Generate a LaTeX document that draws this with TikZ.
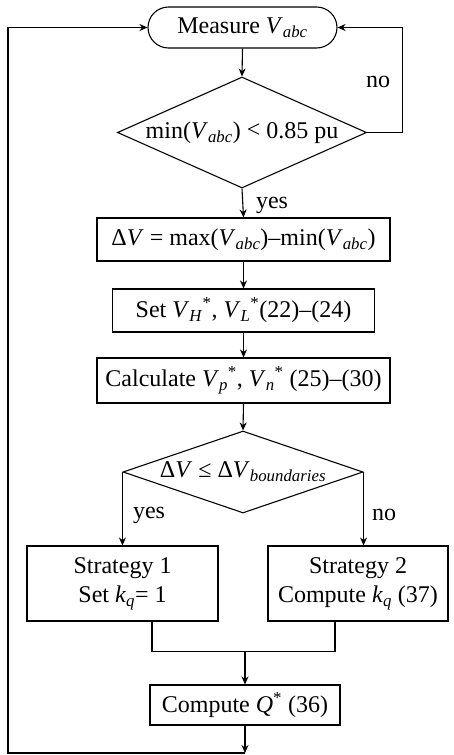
\documentclass[tikz,border=0pt]{standalone}
\usepackage{fontspec}
\setmainfont{Liberation Serif}
\usetikzlibrary{arrows.meta,shapes.geometric,shapes.misc,calc}
\newcommand{\itsb}[2]{\textit{#1}\textsubscript{\textit{#2}}}
\begin{document}
\begin{tikzpicture}[x=1pt,y=-1pt,
  font=\fontsize{24}{28}\selectfont,
  every path/.style={line width=1.1pt},
  arr/.style={-{Stealth[length=8pt,width=7pt]}},
  procbox/.style={draw,rectangle,inner sep=0pt,align=center},
  term/.style={draw,rounded rectangle,inner sep=0pt,minimum width=189pt,minimum height=41pt},
  decision/.style={draw,diamond,inner sep=0pt},
  lbl/.style={inner sep=0pt}]
\useasboundingbox (0,0) rectangle (454,755);
\node[term] (meas) at (242.5,27.5) {Measure \itsb{V}{abc}};
\node[decision,shape aspect=2.6,minimum width=242pt,minimum height=111pt] (d1) at (242,132.5) {min(\itsb{V}{abc}) {\raisebox{1pt}{<}} 0.85 pu};
\node[procbox,minimum width=293pt,minimum height=43pt] (dv) at (243.5,239.5) {Δ\textit{V} = max(\itsb{V}{abc})–min(\itsb{V}{abc})};
\node[procbox,minimum width=262pt,minimum height=43pt] (set) at (243.5,310.5) {Set \itsb{V}{H}\textsuperscript{*}, \itsb{V}{L}\textsuperscript{*}(22)–(24)};
\node[procbox,minimum width=293pt,minimum height=45pt] (calc) at (243.5,380.5) {Calculate \itsb{V}{p}\textsuperscript{*}, \itsb{V}{n}\textsuperscript{*} (25)–(30)};
\node[decision,shape aspect=3.4,minimum width=240pt,minimum height=82pt] (d2) at (243,472) {Δ\textit{V} ≤ Δ\itsb{V}{boundaries}};
\node[procbox,minimum width=191pt,minimum height=75pt] (s1) at (122.5,583.5) {Strategy 1\\[1pt]Set \itsb{k}{q}= 1};
\node[procbox,minimum width=180pt,minimum height=75pt] (s2) at (358,583.5) {Strategy 2\\[1pt]Compute \itsb{k}{q} (37)};
\node[procbox,minimum width=190pt,minimum height=40pt] (comp) at (245,705) {Compute \textit{Q}\textsuperscript{*} (36)};
\coordinate (m) at (245,652);
\coordinate (bot) at (245,753);
\coordinate (lc) at (8,753);
\node[lbl] (no1) at (378,82) {no};
\node[lbl] (yes1) at (272,205) {yes};
\node[lbl] (yes2) at (149,515) {yes};
\node[lbl] (no2) at (384,515) {no};
\draw[arr] (meas.south) -- (d1.north);
\draw[arr] (d1.east) -- ++(35,0) |- (meas.east);
\draw[arr] (d1.south) -- (dv.north);
\draw[arr] (dv.south) -- (set.north);
\draw[arr] (set.south) -- (calc.north);
\draw[arr] (calc.south) -- (d2.north);
\draw[arr] (d2.west) -- (d2.west |- s1.north);
\draw[arr] (d2.east) -- (d2.east |- s2.north);
\draw ($(s1.south)+(29.5,0)$) |- ($(s2.south)+(-23,30)$) -- ($(s2.south)+(-23,0)$);
\draw[arr] (m) -- (comp.north);
\draw[arr] (comp.south) -- (bot);
\draw[arr] (bot) -- (lc) |- (meas.west);
\end{tikzpicture}
\end{document}
